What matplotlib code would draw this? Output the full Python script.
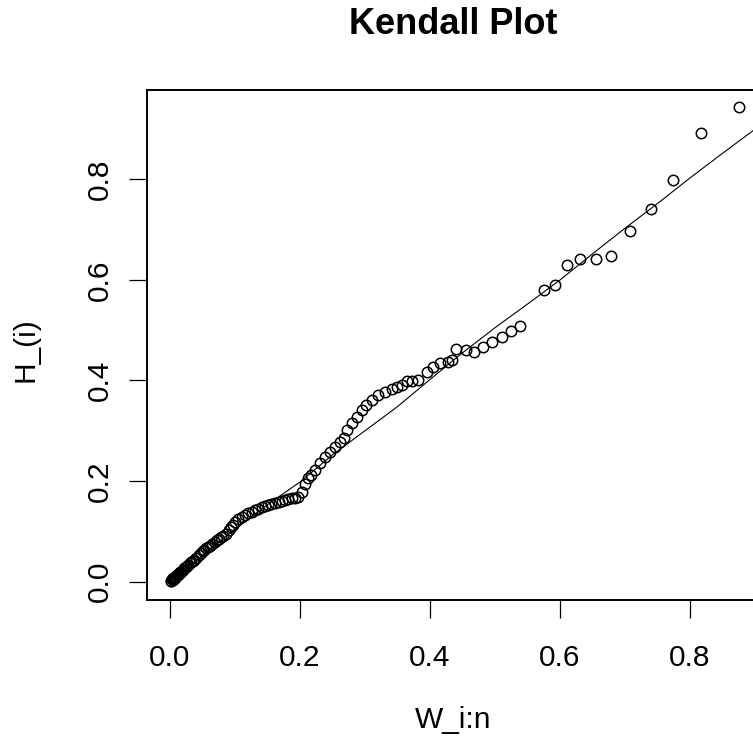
import numpy as np
import matplotlib.pyplot as plt

plt.rcParams['font.family'] = ['Liberation Sans', 'DejaVu Sans']

# Kendall plot points (W_i:n, H_(i))
w_pts = [0.001, 0.002, 0.003, 0.004, 0.005, 0.006, 0.007, 0.008, 0.009, 0.010,
         0.012, 0.013, 0.015, 0.016, 0.018, 0.020,
         0.022, 0.024, 0.026, 0.028, 0.030, 0.033, 0.035, 0.037, 0.040,
         0.044, 0.047, 0.050, 0.053, 0.056, 0.059, 0.062, 0.065,
         0.069, 0.072, 0.075, 0.078, 0.082, 0.086,
         0.090, 0.094, 0.097, 0.100,
         0.105, 0.110, 0.115, 0.120, 0.126, 0.131, 0.136, 0.141, 0.146, 0.151,
         0.156, 0.161, 0.167, 0.172, 0.177, 0.182, 0.187, 0.192, 0.197,
         0.203, 0.208, 0.212, 0.217, 0.223, 0.231, 0.238, 0.246, 0.254, 0.262,
         0.267, 0.273, 0.280, 0.287, 0.295, 0.302, 0.310, 0.320, 0.331, 0.341,
         0.349, 0.357, 0.364, 0.372, 0.382, 0.395, 0.405, 0.415, 0.428, 0.434,
         0.440, 0.456, 0.468, 0.481, 0.495, 0.510, 0.525, 0.538,
         0.575, 0.593, 0.611, 0.631, 0.656, 0.678, 0.707, 0.740, 0.774, 0.817,
         0.876]
h_pts = [0.002, 0.001, 0.004, 0.003, 0.006, 0.005, 0.008, 0.007, 0.010, 0.012,
         0.013, 0.015, 0.016, 0.018, 0.021, 0.023,
         0.026, 0.029, 0.031, 0.033, 0.036, 0.038, 0.040, 0.043, 0.046,
         0.053, 0.057, 0.060, 0.063, 0.066, 0.068, 0.071, 0.074,
         0.079, 0.082, 0.085, 0.088, 0.091, 0.094,
         0.103, 0.108, 0.113, 0.118,
         0.124, 0.129, 0.133, 0.136, 0.139, 0.142, 0.145, 0.148, 0.150, 0.152,
         0.154, 0.156, 0.158, 0.160, 0.162, 0.164, 0.166, 0.167, 0.169,
         0.178, 0.195, 0.205, 0.212, 0.222, 0.235, 0.248, 0.258, 0.268, 0.278,
         0.285, 0.302, 0.315, 0.328, 0.341, 0.351, 0.361, 0.371, 0.378, 0.384,
         0.388, 0.392, 0.398, 0.398, 0.401, 0.417, 0.427, 0.434, 0.437, 0.440,
         0.462, 0.461, 0.457, 0.467, 0.477, 0.487, 0.499, 0.509,
         0.580, 0.590, 0.630, 0.641, 0.641, 0.648, 0.698, 0.741, 0.799, 0.892,
         0.944]

# reference curve
line_w = [0.0, 0.05, 0.10, 0.15, 0.20, 0.25, 0.30, 0.35, 0.40, 0.45,
          0.50, 0.55, 0.60, 0.65, 0.70, 0.75, 0.80, 0.85, 0.90, 0.95]
line_h = [0.0, 0.052, 0.104, 0.153, 0.198, 0.252, 0.300, 0.348, 0.402, 0.455,
          0.505, 0.552, 0.600, 0.652, 0.703, 0.752, 0.803, 0.852, 0.900, 0.950]

x_ticks = [0.0, 0.2, 0.4, 0.6, 0.8]
y_ticks = [0.0, 0.2, 0.4, 0.6, 0.8]

fig = plt.figure(figsize=(7.53, 7.47), dpi=100)
ax = fig.add_axes([147/753, 147/747, 621/753, 510/747])

ax.plot(line_w, line_h, color='black', lw=0.8)
ax.plot(w_pts, h_pts, linestyle='none', marker='o', markersize=7.5,
        markerfacecolor='none', markeredgecolor='black', markeredgewidth=1.1)

ax.set_xlim(-0.0354, 0.92)
ax.set_ylim(-0.0368, 0.978)

ax.set_xticks(x_ticks)
ax.set_xticklabels(['%.1f' % v for v in x_ticks])
ax.set_yticks(y_ticks)
ax.set_yticklabels(['%.1f' % v for v in y_ticks], rotation=90, va='center')

ax.tick_params(axis='both', direction='out', length=13, width=0.9,
               labelsize=21.5, color='black')
ax.tick_params(axis='x', pad=19)
ax.tick_params(axis='y', pad=11)

for s in ax.spines.values():
    s.set_linewidth(1.4)
    s.set_color('black')

ax.set_xlabel('W_i:n', fontsize=21.5, va='center')
ax.xaxis.set_label_coords(0.493, -0.235)
ax.set_ylabel('H_(i)', fontsize=21.5, va='center')
ax.yaxis.set_label_coords(-0.195, 0.49)

fig.text(453/753, 1 - 34/747, 'Kendall Plot', ha='center', va='baseline',
         fontsize=26, fontweight='bold')

fig.savefig('out.png', dpi=100)
